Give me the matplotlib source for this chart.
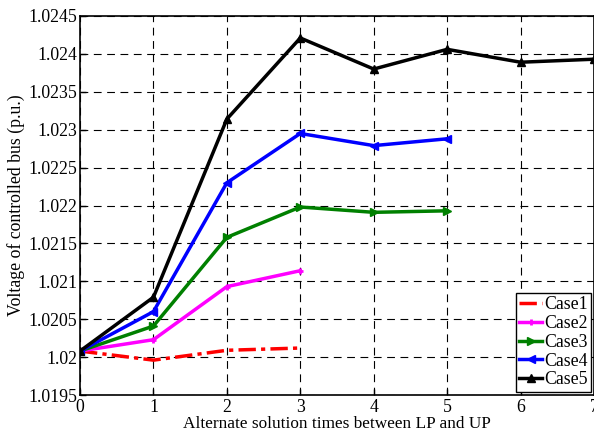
import matplotlib
matplotlib.use('Agg')
import matplotlib.pyplot as plt

plt.rcParams['font.family'] = ['Liberation Serif', 'DejaVu Serif']

# Data
case1_x = [0, 1, 2, 3]
case1_y = [1.02008, 1.01996, 1.02009, 1.02012]

case2_x = [0, 1, 2, 3]
case2_y = [1.02008, 1.02023, 1.02093, 1.02114]

case3_x = [0, 1, 2, 3, 4, 5]
case3_y = [1.02008, 1.02041, 1.02158, 1.02198, 1.02191, 1.02193]

case4_x = [0, 1, 2, 3, 4, 5]
case4_y = [1.02008, 1.02060, 1.02230, 1.02295, 1.02279, 1.02288]

case5_x = [0, 1, 2, 3, 4, 5, 6, 7]
case5_y = [1.02008, 1.02079, 1.02314, 1.02421, 1.02380, 1.02406, 1.02389, 1.02393]

y_ticks = [1.0195, 1.02, 1.0205, 1.021, 1.0215, 1.022, 1.0225, 1.023,
           1.0235, 1.024, 1.0245]
y_labels = ['1.0195', '1.02', '1.0205', '1.021', '1.0215', '1.022', '1.0225',
            '1.023', '1.0235', '1.024', '1.0245']


fig = plt.figure(figsize=(5.94, 4.32), dpi=100)
ax = fig.add_axes([0.1347, 0.0856, 0.8653, 0.8774])

ax.plot(case1_x, case1_y, color='red', linestyle=(0, (5, 1.5, 1.2, 1.5)),
        linewidth=2.5, label='Case1')
ax.plot(case2_x, case2_y, color='magenta', linewidth=2.5, marker='+',
        markersize=5, markeredgewidth=2, label='Case2')
ax.plot(case3_x, case3_y, color='green', linewidth=2.5, marker='>',
        markersize=6, label='Case3')
ax.plot(case4_x, case4_y, color='blue', linewidth=2.5, marker='<',
        markersize=6, label='Case4')
ax.plot(case5_x, case5_y, color='black', linewidth=2.5, marker='^',
        markersize=6, label='Case5')

ax.set_xlim(0, 7)
ax.set_ylim(1.0195, 1.0245)
ax.set_xticks(range(8))
ax.set_yticks(y_ticks)
ax.set_yticklabels(y_labels)
ax.tick_params(labelsize=12.8, direction='in', length=4, width=1)
ax.tick_params(axis='x', pad=3)
ax.tick_params(axis='y', pad=2)

ax.grid(True, color='black', linestyle=(0, (7, 5)), linewidth=0.8)
for sp in ax.spines.values():
    sp.set_linewidth(1.2)

ax.set_xlabel('Alternate solution times between LP and UP', fontsize=12.4,
              labelpad=0)
ax.set_ylabel('Voltage of controlled bus (p.u.)', fontsize=12.8, labelpad=2)

leg = ax.legend(loc='lower right', fontsize=12.8, handlelength=1.3,
                handletextpad=0.1, labelspacing=0.1, borderpad=0.2,
                borderaxespad=0.0, fancybox=False, framealpha=1,
                edgecolor='black', bbox_to_anchor=(0.995, 0.008))
leg.get_frame().set_linewidth(1.0)

fig.savefig('out.png', dpi=100)
